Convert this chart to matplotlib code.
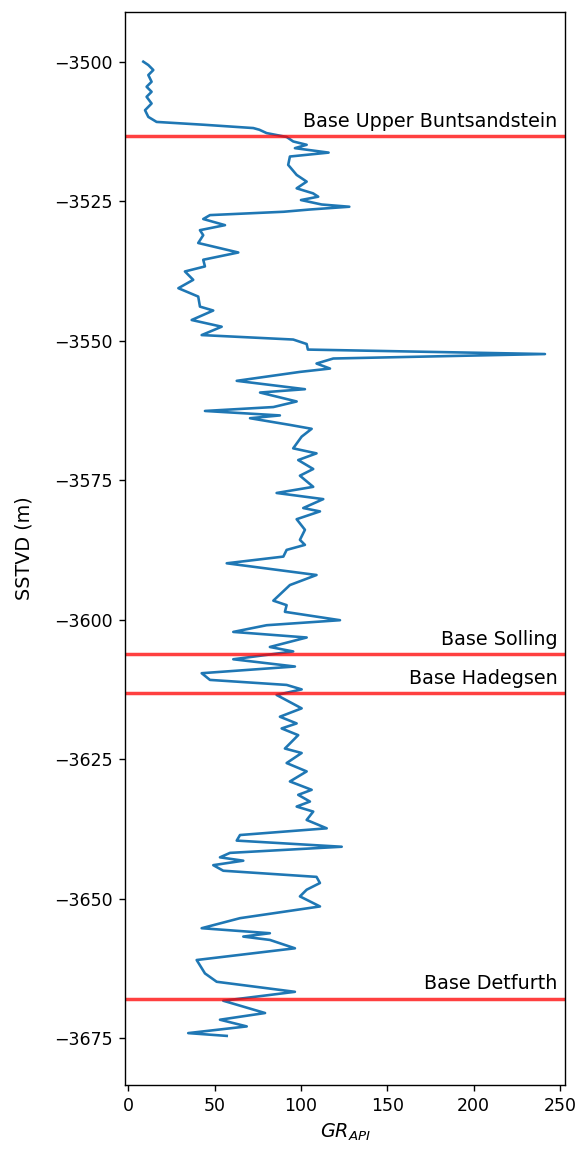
import matplotlib.pyplot as plt

# Gamma ray log (depth in m SSTVD, GR in API units)
depth = [-3500.0, -3500.6, -3501.5, -3502.4, -3503.6, -3504.5, -3505.4, -3506.3,
         -3507.5, -3508.7, -3509.9, -3510.8, -3511.3, -3511.9, -3512.2, -3512.8,
         -3513.5, -3514.3, -3514.9, -3515.5, -3516.1, -3516.3, -3517.0, -3518.5,
         -3520.3, -3521.5, -3522.7, -3523.6, -3524.2, -3524.8, -3525.6, -3526.0,
         -3526.5, -3526.9, -3527.5, -3528.2, -3529.3, -3530.2, -3531.1, -3532.5,
         -3534.2, -3535.5, -3536.7, -3537.6, -3539.1, -3540.6, -3542.1, -3543.9,
         -3544.6, -3546.3, -3547.5, -3549.0, -3549.8, -3550.6, -3551.6, -3552.4,
         -3553.2, -3554.1, -3555.0, -3555.6, -3557.2, -3558.7, -3559.3, -3560.9,
         -3561.9, -3562.6, -3563.4, -3563.9, -3565.1, -3565.8, -3567.2, -3569.3,
         -3570.2, -3571.4, -3573.0, -3574.2, -3576.2, -3577.3, -3578.4, -3580.0,
         -3580.6, -3582.0, -3583.9, -3585.7, -3586.6, -3587.5, -3588.7, -3589.9,
         -3592.0, -3593.8, -3596.6, -3597.4, -3598.6, -3600.1, -3601.0, -3602.2,
         -3603.2, -3604.9, -3605.7, -3607.1, -3608.4, -3609.6, -3610.8, -3611.7,
         -3612.5, -3613.5, -3615.9, -3617.4, -3618.6, -3619.5, -3620.7, -3623.1,
         -3623.9, -3625.7, -3627.2, -3629.0, -3630.5, -3631.4, -3632.6, -3633.5,
         -3634.4, -3635.9, -3637.4, -3638.6, -3639.6, -3640.7, -3641.8, -3642.6,
         -3643.2, -3644.0, -3645.0, -3646.1, -3647.2, -3648.4, -3649.6, -3651.4,
         -3653.5, -3655.3, -3656.2, -3656.8, -3657.4, -3658.9, -3661.0, -3663.4,
         -3664.9, -3666.7, -3668.3, -3670.5, -3671.7, -3672.9, -3674.1, -3674.6]

gr = [8.7, 11.6, 14.5, 11.6, 13.5, 10.6, 13.5, 10.6,
      13.5, 9.7, 11.6, 16.4, 43.4, 72.4, 75.9, 80.1,
      91.7, 95.5, 103.3, 96.5, 111.0, 116.0, 93.6, 92.6,
      97.5, 103.3, 97.5, 107.0, 110.0, 100.0, 112.0, 128.0,
      105.0, 90.0, 47.3, 43.4, 56.0, 41.5, 43.4, 40.5,
      63.7, 43.4, 44.4, 32.8, 37.6, 29.0, 40.5, 41.5,
      49.2, 36.7, 54.1, 42.5, 95.5, 103.3, 104.0, 241.3,
      118.7, 109.0, 116.8, 99.4, 62.8, 102.3, 76.3, 97.5,
      84.0, 44.4, 87.8, 70.5, 93.6, 106.2, 100.4, 95.5,
      109.0, 98.4, 107.1, 99.4, 107.1, 85.9, 112.9, 101.3,
      111.0, 97.5, 102.3, 99.4, 102.3, 91.7, 89.8, 57.0,
      109.0, 93.6, 84.0, 91.7, 90.7, 122.6, 80.1, 60.8,
      103.3, 82.0, 95.5, 60.8, 96.5, 42.5, 47.3, 91.7,
      100.4, 85.9, 100.4, 87.8, 97.5, 88.8, 98.4, 90.7,
      100.4, 91.7, 103.3, 93.6, 106.2, 98.4, 105.2, 97.5,
      107.1, 103.3, 114.9, 64.7, 62.8, 123.6, 58.9, 53.1,
      66.6, 49.2, 55.0, 109.0, 111.0, 103.3, 99.4, 111.0,
      64.7, 42.5, 82.0, 66.6, 82.0, 96.5, 39.6, 44.4,
      51.2, 96.5, 55.0, 79.2, 53.1, 68.6, 34.7, 57.0]

# Formation tops
tops = ["Base Upper Buntsandstein", "Base Solling", "Base Hadegsen", "Base Detfurth"]
top_depths = [-3513.4, -3606.1, -3613.1, -3667.9]

fig = plt.figure(figsize=(577 / 125, 1153 / 125), dpi=125)
ax = fig.add_axes([125 / 577, 1 - 1085 / 1153, 440 / 577, 1073 / 1153])

ax.plot(gr, depth, color='tab:blue', solid_joinstyle='round')

for name, d in zip(tops, top_depths):
    ax.axhline(d, color='red', alpha=0.75, linewidth=2)
    ax.text(248.5, d + 0.9, name, ha='right', va='bottom', fontsize=11)

ax.set_xlim(-1.9, 252.9)
ax.set_ylim(-3683.4, -3491.1)
ax.set_xlabel('$GR_{API}$', fontsize=11)
ax.set_ylabel('SSTVD (m)', fontsize=11, labelpad=12)

plt.savefig('out.png', dpi=125)
